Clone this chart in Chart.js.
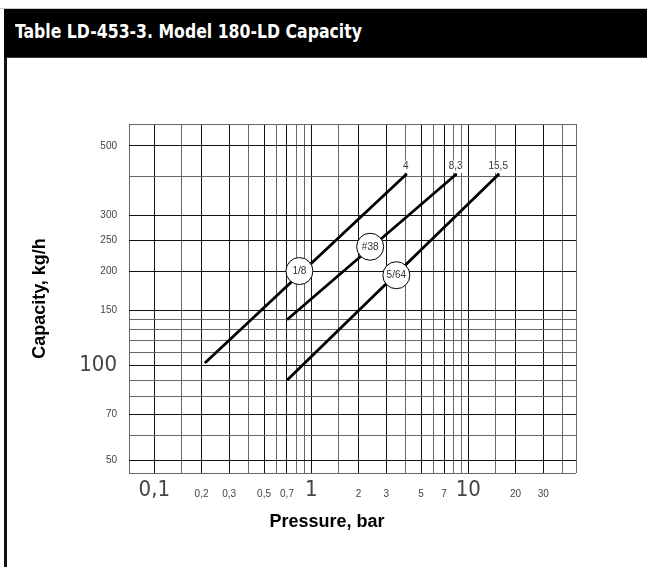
<!DOCTYPE html>
<html>
<head>
<meta charset="utf-8">
<script src="https://cdn.jsdelivr.net/npm/chart.js@4.4.0/dist/chart.umd.min.js"></script>
<style>
html, body { margin: 0; padding: 0; background: #fff; }
body { width: 647px; height: 567px; position: relative; overflow: hidden; }
#topline { position: absolute; left: 0; top: 8px; width: 647px; height: 1px; background: #c8c8c8; }
#bar { position: absolute; left: 4px; top: 9px; width: 643px; height: 49px; background: #000; border-bottom: 1px solid #3a3a3a; box-sizing: border-box; }
#bar span { position: absolute; left: 11px; top: 12px; color: #fff; font: bold 20px/20px 'DejaVu Sans Condensed', 'DejaVu Sans', sans-serif; white-space: nowrap; transform-origin: 0 0; }
#side { position: absolute; left: 4px; top: 57px; width: 3px; height: 510px; background: #111; }
#wrap { position: absolute; left: 7px; top: 58px; width: 640px; height: 509px; }
</style>
</head>
<body>
<div id="topline"></div>
<div id="bar"><span id="ttl">Table LD-453-3. Model 180-LD Capacity</span></div>
<div id="side"></div>
<div id="wrap"><canvas id="chart" width="640" height="509"></canvas></div>
<script>
// axes (log-log)
const xMin = 0.069, xMax = 48.5;
const yMin = 45.6, yMax = 587;
const xGrid = [0.1, 0.15, 0.2, 0.3, 0.4, 0.5, 0.6, 0.7, 0.8, 0.9, 1, 1.5, 2, 3, 4, 5, 6, 7, 8, 9, 10, 15, 20, 30, 40];
const xTickValues = [0.1, 0.2, 0.3, 0.5, 0.7, 1, 2, 3, 5, 7, 10, 20, 30];
const xTickLabels = ['0,1', '0,2', '0,3', '0,5', '0,7', '1', '2', '3', '5', '7', '10', '20', '30'];
const xBigTicks = [0.1, 1, 10];
const yGrid = [50, 60, 70, 80, 90, 100, 110, 120, 130, 140, 150, 200, 250, 300, 400, 500];
const yTickValues = [50, 70, 100, 150, 200, 250, 300, 500];
const yTickLabels = ['50', '70', '100', '150', '200', '250', '300', '500'];
const yBigTicks = [100];

// orifice lines
const seriesNames = ['1/8', '#38', '5/64'];
const pressure18 = [0.21, 4];
const capacity18 = [102, 405];
const pressure38 = [0.7, 8.3];
const capacity38 = [140, 405];
const pressure564 = [0.7, 15.5];
const capacity564 = [90, 405];
const endLabels = ['4', '8,3', '15,5'];

// circled names on the lines
const tagPressure = [0.84, 2.37, 3.48];
const tagCapacity = [200, 239, 194];

// title squeezed to the width of the original condensed face
const ttl = document.getElementById('ttl');
ttl.style.transform = 'scaleX(' + (347 / ttl.getBoundingClientRect().width) + ')';

const narrow = "'DejaVu Sans Condensed', 'DejaVu Sans', sans-serif";
const sans = "'Liberation Sans', Arial, sans-serif";

function same(a, b) { return Math.abs(Math.log(a / b)) < 1e-6; }
function inList(v, list) { return list.some(t => same(t, v)); }
function tickText(v, values, labels) {
	for (let i = 0; i < values.length; i++) {
		if (same(values[i], v)) return labels[i];
	}
	return '';
}
function gridColor(c, values) {
	if (!c.tick) return '#666';
	return inList(c.tick.value, values) ? '#111' : '#666';
}
function tickFont(c, big) {
	if (c.tick && inList(c.tick.value, big)) return { family: narrow, size: 22, weight: 'normal', lineHeight: '22px' };
	return { family: sans, size: 10, lineHeight: '31px' };
}
function pts(xs, ys) { return xs.map((x, i) => ({ x: x, y: ys[i] })); }

function lineSet(name, xs, ys, label) {
	return {
		label: name, data: pts(xs, ys), endLabel: label,
		showLine: true, borderColor: '#000', borderWidth: 2.8, borderCapStyle: 'butt',
		pointRadius: [0, 1.6], pointBackgroundColor: '#000', pointBorderWidth: 0,
		xAxisID: 'x', yAxisID: 'y', order: 1
	};
}

//texte dans les cercles et au bout des lignes
const labelPlugin = {
	id: 'labels',
	afterDatasetsDraw(chart) {
		const ctx = chart.ctx;
		ctx.save();
		ctx.font = '10px ' + sans;
		ctx.textAlign = 'center';
		ctx.textBaseline = 'middle';
		chart.data.datasets.forEach((ds, i) => {
			const els = chart.getDatasetMeta(i).data;
			if (ds.tags) {
				els.forEach((p, j) => {
					ctx.fillStyle = '#333';
					ctx.fillText(ds.tags[j], p.x, p.y + 0.5);
				});
			} else if (ds.endLabel) {
				const p = els[els.length - 1];
				const w = ctx.measureText(ds.endLabel).width;
				const ty = p.y - 8;
				ctx.fillStyle = '#fff';
				ctx.fillRect(p.x - w / 2 - 2, ty - 6, w + 4, 12);
				ctx.fillStyle = '#333';
				ctx.fillText(ds.endLabel, p.x, ty);
			}
		});
		ctx.restore();
	}
};

const chart = new Chart(document.getElementById('chart').getContext('2d'), {
	type: 'scatter',
	data: {
		datasets: [
			{
				label: 'tags', data: pts(tagPressure, tagCapacity), tags: seriesNames,
				showLine: false, pointRadius: 13.5, pointBackgroundColor: '#fff',
				pointBorderColor: '#000', pointBorderWidth: 1, xAxisID: 'x', yAxisID: 'y', order: 0
			},
			lineSet(seriesNames[0], pressure18, capacity18, endLabels[0]),
			lineSet(seriesNames[1], pressure38, capacity38, endLabels[1]),
			lineSet(seriesNames[2], pressure564, capacity564, endLabels[2])
		]
	},
	options: {
		responsive: false,
		animation: false,
		events: [],
		layout: { padding: { top: 66, right: 0, bottom: 0, left: 0 } },
		plugins: {
			legend: { display: false },
			tooltip: { enabled: false },
			title: {
				display: true, position: 'bottom', text: 'Pressure, bar', color: '#000',
				font: { family: sans, size: 18, weight: 'bold', lineHeight: 1.2 },
				padding: { top: 8.2, bottom: 34.2 }
			}
		},
		scales: {
			x: {
				type: 'logarithmic', min: xMin, max: xMax,
				afterBuildTicks: s => { s.ticks = [xMin].concat(xGrid, [xMax]).map(v => ({ value: v })); },
				afterFit: s => { s.height = 30; },
				grid: { drawTicks: false, lineWidth: 1, color: c => gridColor(c, xTickValues) },
				border: { display: false },
				ticks: {
					autoSkip: false, maxRotation: 0, minRotation: 0, padding: 6, color: '#444',
					callback: v => tickText(v, xTickValues, xTickLabels),
					font: c => tickFont(c, xBigTicks)
				}
			},
			y: {
				type: 'logarithmic', min: yMin, max: yMax,
				afterBuildTicks: s => { s.ticks = [yMin].concat(yGrid, [yMax]).map(v => ({ value: v })); },
				afterFit: s => { s.width = 122; },
				grid: { drawTicks: false, lineWidth: 1, color: c => gridColor(c, yTickValues) },
				border: { display: false },
				ticks: {
					autoSkip: false, padding: 12, color: '#444',
					callback: v => tickText(v, yTickValues, yTickLabels),
					font: c => tickFont(c, yBigTicks)
				},
				title: {
					display: true, text: 'Capacity, kg/h', color: '#000',
					font: { family: sans, size: 18, weight: 'bold', lineHeight: 1.2 },
					padding: { top: 22.2, bottom: 0 }
				}
			},
			yR: {
				type: 'linear', position: 'right', display: true,
				grid: { display: false }, border: { display: false }, ticks: { display: false },
				afterFit: s => { s.width = 71; }
			}
		}
	},
	plugins: [labelPlugin]
});
</script>
</body>
</html>
